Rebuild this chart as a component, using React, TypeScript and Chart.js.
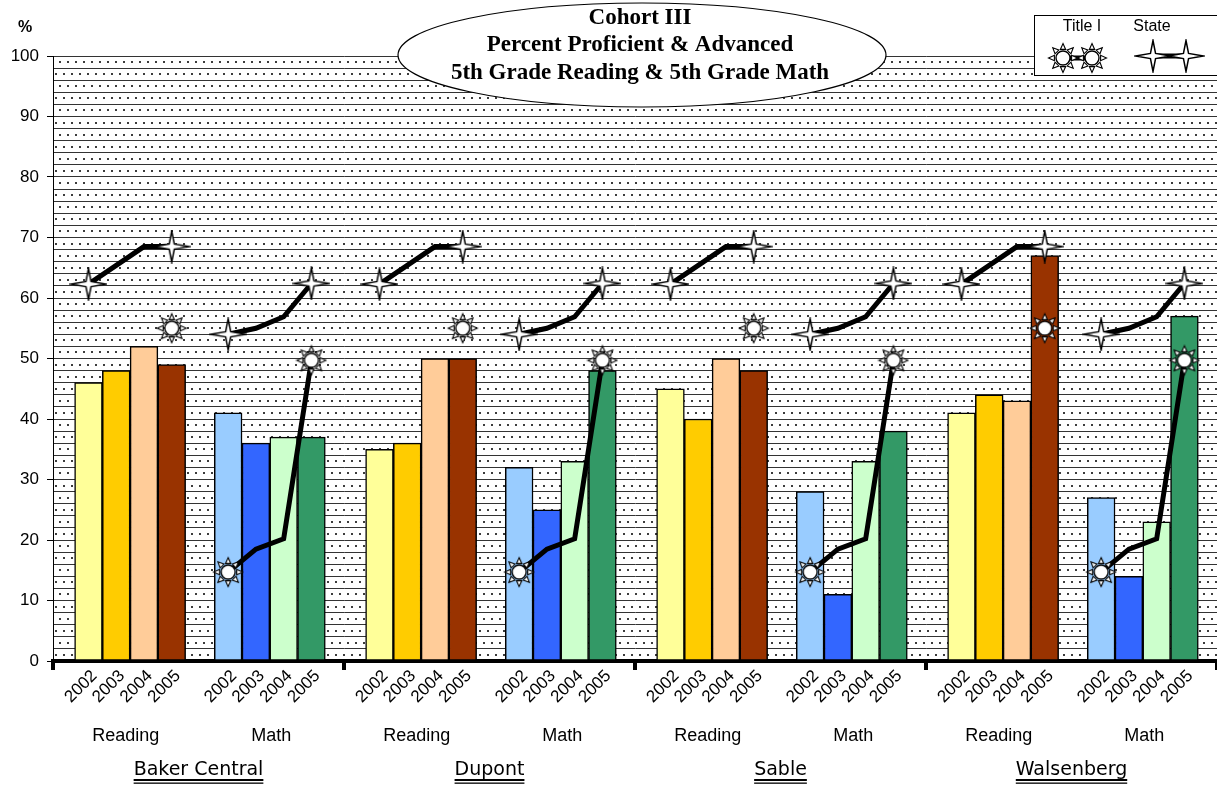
import { useEffect, useRef } from 'react';
import { Chart, registerables } from 'chart.js';

Chart.register(...registerables);

// ---------- data ----------
const schools = ['Baker Central', 'Dupont', 'Sable', 'Walsenberg'];
const subjects = ['Reading', 'Math'];
const years = ['2002', '2003', '2004', '2005'];

const bakerReading = [46, 48, 52, 49];
const bakerMath = [41, 36, 37, 37];
const dupontReading = [35, 36, 50, 50];
const dupontMath = [32, 25, 33, 48];
const sableReading = [45, 40, 50, 48];
const sableMath = [28, 11, 33, 38];
const walsenbergReading = [41, 44, 43, 67];
const walsenbergMath = [27, 14, 23, 57];

const titleIReading: (number | null)[] = [null, null, null, 55];
const titleIMath = [14.7, 18.5, 20.2, 49.7];
const stateReading = [62.3, 65.4, 68.5, 68.5];
const stateMath = [54, 55, 56.9, 62.4];

const readingColors = ['#FFFF99', '#FFCC00', '#FFCC99', '#993300'];
const mathColors = ['#99CCFF', '#3366FF', '#CCFFCC', '#339966'];

const titleLines = ['Cohort III', 'Percent Proficient & Advanced', '5th Grade Reading & 5th Grade Math'];
const yUnit = '%';
const lineLabels = ['Title I', 'State'];

// ---------- derived ----------
const groups = [
  bakerReading, bakerMath,
  dupontReading, dupontMath,
  sableReading, sableMath,
  walsenbergReading, walsenbergMath,
];
const groupSubjects = schools.flatMap(() => subjects);
const CAT_PCT = 0.763;
const barStep = CAT_PCT / years.length;
const SUBJECT_SHIFT: Record<string, number> = { Reading: 0.03, Math: -0.01 };
const xForBar = (g: number, k: number) =>
  g + SUBJECT_SHIFT[groupSubjects[g]] + (k - (years.length - 1) / 2) * barStep;

function linePoints(readingVals: (number | null)[], mathVals: (number | null)[]) {
  const pts: any[] = [];
  groupSubjects.forEach((s, g) => {
    const vals = s === 'Reading' ? readingVals : mathVals;
    vals.forEach((v, k) => pts.push({ x: xForBar(g, k), y: v, k }));
    pts.push({ x: g + 0.5, y: null, k: -1 });
  });
  return pts;
}

function makeSun(): HTMLCanvasElement {
  const s = 32;
  const c = document.createElement('canvas');
  c.width = s; c.height = s;
  const g = c.getContext('2d')!;
  const cx = s / 2, cy = s / 2;
  g.strokeStyle = '#000';
  g.lineWidth = 1.1;
  for (let i = 0; i < 8; i++) {
    const a = (i * Math.PI) / 4 - Math.PI / 2;
    g.beginPath();
    g.moveTo(cx + Math.cos(a) * 14.5, cy + Math.sin(a) * 14.5);
    g.lineTo(cx + Math.cos(a + 0.3) * 9, cy + Math.sin(a + 0.3) * 9);
    g.lineTo(cx + Math.cos(a - 0.3) * 9, cy + Math.sin(a - 0.3) * 9);
    g.closePath();
    g.fillStyle = '#fff';
    g.fill();
    g.stroke();
  }
  g.beginPath();
  g.arc(cx, cy, 7, 0, Math.PI * 2);
  g.fillStyle = '#fff';
  g.fill();
  g.lineWidth = 1.4;
  g.stroke();
  return c;
}

function makeStar(): HTMLCanvasElement {
  const w = 38, h = 34;
  const c = document.createElement('canvas');
  c.width = w; c.height = h;
  const g = c.getContext('2d')!;
  const cx = w / 2, cy = h / 2;
  const rx = 17.5, ry = 15.5, ri = 3.6;
  const d = ri * Math.SQRT1_2;
  g.beginPath();
  g.moveTo(cx + rx, cy);
  g.lineTo(cx + d, cy - d);
  g.lineTo(cx, cy - ry);
  g.lineTo(cx - d, cy - d);
  g.lineTo(cx - rx, cy);
  g.lineTo(cx - d, cy + d);
  g.lineTo(cx, cy + ry);
  g.lineTo(cx + d, cy + d);
  g.closePath();
  g.fillStyle = '#fff';
  g.fill();
  g.strokeStyle = '#000';
  g.lineWidth = 1.5;
  g.stroke();
  return c;
}

const zeroPad = (s: any) => { s.paddingLeft = 0; s.paddingRight = 0; };

export default function App() {
  const ref = useRef<HTMLCanvasElement>(null);

  useEffect(() => {
    const sun = makeSun();
    const star = makeStar();

    const decor = {
      id: 'decor',
      beforeDraw(chart: any) {
        const { ctx, chartArea: a, scales } = chart;
        ctx.save();
        ctx.fillStyle = '#fff';
        ctx.fillRect(0, 0, chart.width, chart.height);
        const y = scales.y;
        ctx.fillStyle = '#3c3c3c';
        let row = 0;
        for (let v = 0; v < 100; v += 2) {
          const py = Math.round(y.getPixelForValue(v + 1)) - 1;
          const off = row % 2 ? 4 : 0;
          for (let px = a.left + 2 + off; px < a.right; px += 8) ctx.fillRect(px, py, 2, 2);
          row++;
        }
        ctx.restore();
      },
      afterDraw(chart: any) {
        const { ctx, chartArea: a, scales } = chart;
        ctx.save();
        // school boundary ticks on baseline
        ctx.fillStyle = '#000';
        const n = schools.length;
        for (let i = 0; i <= n; i++) {
          const x = a.left + (i * (a.right - a.left)) / n;
          ctx.fillRect(x - 2, a.bottom, 4, 9);
        }
        // underline school names
        const xs = scales.xs;
        ctx.font = '19px "DejaVu Sans"';
        schools.forEach((s, i) => {
          const x = xs.getPixelForTick(i);
          const w = ctx.measureText(s).width;
          ctx.fillRect(x - w / 2, xs.bottom - 9, w, 2);
          ctx.fillRect(x - w / 2, xs.bottom - 5.5, w, 1.3);
        });
        // % unit
        ctx.font = 'bold 16px "Liberation Sans"';
        ctx.textAlign = 'center';
        ctx.textBaseline = 'middle';
        ctx.fillText(yUnit, 25, 28);
        // title ellipse
        ctx.beginPath();
        ctx.ellipse(642, 55, 244, 52, 0, 0, Math.PI * 2);
        ctx.fillStyle = '#fff';
        ctx.fill();
        ctx.lineWidth = 1.2;
        ctx.strokeStyle = '#000';
        ctx.stroke();
        ctx.fillStyle = '#000';
        ctx.font = 'bold 23px "Liberation Serif"';
        titleLines.forEach((t, i) => ctx.fillText(t, 640, 18 + i * 27.5));
        // legend
        ctx.fillStyle = '#fff';
        ctx.fillRect(1034, 15, 190, 60);
        ctx.lineWidth = 1;
        ctx.strokeRect(1034.5, 15.5, 190, 60);
        ctx.fillStyle = '#000';
        ctx.font = '16px "Liberation Sans"';
        ctx.fillText(lineLabels[0], 1082, 27);
        ctx.fillText(lineLabels[1], 1152, 27);
        ctx.lineWidth = 5;
        ctx.beginPath();
        ctx.moveTo(1063, 58); ctx.lineTo(1092, 58);
        ctx.moveTo(1153, 56); ctx.lineTo(1186, 56);
        ctx.stroke();
        [1063, 1092].forEach((x) => ctx.drawImage(sun, x - sun.width / 2, 58 - sun.height / 2));
        [1153, 1186].forEach((x) => ctx.drawImage(star, x - star.width / 2, 56 - star.height / 2));
        ctx.restore();
      },
    };

    const markerRadius = (c: any) => (c.raw && (c.raw.k === 0 || c.raw.k === years.length - 1) ? 10 : 0);

    const barDatasets = years.map((yr, k) => ({
      type: 'bar' as const,
      label: yr,
      data: groups.map((g, gi) => ({ x: xForBar(gi, k), y: g[k] })),
      backgroundColor: groupSubjects.map((s) => (s === 'Reading' ? readingColors[k] : mathColors[k])),
      borderColor: '#000',
      borderWidth: 1.5,
      borderSkipped: false as const,
      grouped: false,
      categoryPercentage: 1,
      barPercentage: 1,
      xAxisID: 'xl',
      order: 2,
    }));

    const lineDatasets = [
      {
        type: 'line' as const,
        label: lineLabels[0],
        data: linePoints(titleIReading, titleIMath),
        borderColor: '#000',
        borderWidth: 5,
        pointStyle: sun,
        pointRadius: markerRadius,
        pointHoverRadius: 0,
        spanGaps: false,
        tension: 0,
        xAxisID: 'xl',
        order: 0,
      },
      {
        type: 'line' as const,
        label: lineLabels[1],
        data: linePoints(stateReading, stateMath),
        borderColor: '#000',
        borderWidth: 5,
        pointStyle: star,
        pointRadius: markerRadius,
        pointHoverRadius: 0,
        spanGaps: false,
        tension: 0,
        xAxisID: 'xl',
        order: 1,
      },
    ];

    Chart.defaults.font.family = '"Liberation Sans", Arial, sans-serif';
    Chart.defaults.color = '#000';

    const chart = new Chart(ref.current!, {
      data: { labels: groupSubjects, datasets: [...barDatasets, ...lineDatasets] as any },
      options: {
        responsive: false,
        animation: false,
        events: [],
        layout: { autoPadding: false, padding: { top: 56, left: 0, right: 0, bottom: 0 } },
        plugins: { legend: { display: false }, tooltip: { enabled: false }, title: { display: false } },
        scales: {
          y: {
            min: 0,
            max: 100,
            position: 'left',
            grid: {
              color: '#333',
              lineWidth: 1,
              tickLength: 6,
              tickColor: (c: any) => (c.tick && c.tick.value % 10 === 0 ? '#000' : 'rgba(0,0,0,0)'),
            },
            border: { color: '#000', width: 1 },
            ticks: {
              stepSize: 2,
              maxTicksLimit: 60,
              autoSkip: false,
              padding: 8,
              font: { size: 17 },
              color: '#000',
              callback: (v: any) => (Number(v) % 10 === 0 ? String(v) : ''),
            },
            afterFit: (s: any) => { s.width = 53; },
          },
          xl: {
            type: 'linear',
            position: 'bottom',
            weight: 0,
            min: -0.5,
            max: groups.length - 0.5,
            offset: false,
            grid: { display: false, drawTicks: false },
            border: { display: true, color: '#000', width: 4 },
            ticks: {
              autoSkip: false,
              minRotation: 45,
              maxRotation: 45,
              padding: 5,
              labelOffset: 6,
              font: { size: 17 },
              color: '#000',
              callback: (_v: any, i: number) => years[i % years.length],
            },
            afterBuildTicks: (s: any) => {
              s.ticks = groups.flatMap((_g, g) => years.map((_y, k) => ({ value: xForBar(g, k) })));
            },
            afterFit: (s: any) => { s.height = 44; zeroPad(s); },
          },
          x: {
            type: 'category',
            position: 'bottom',
            weight: 1,
            offset: true,
            grid: { display: false, drawTicks: false },
            border: { display: false },
            ticks: { autoSkip: false, maxRotation: 0, padding: 20, font: { size: 18 }, color: '#000' },
            afterFit: (s: any) => { s.height = 46; zeroPad(s); },
          },
          xs: {
            type: 'category',
            labels: schools,
            position: 'bottom',
            weight: 2,
            offset: true,
            grid: { display: false, drawTicks: false },
            border: { display: false },
            ticks: { autoSkip: false, maxRotation: 0, padding: 8, font: { family: '"DejaVu Sans"', size: 19 }, color: '#000' },
            afterFit: (s: any) => { s.height = 37; zeroPad(s); },
          },
        } as any,
      },
      plugins: [decor],
    } as any);

    return () => chart.destroy();
  }, []);

  return (
    <div style={{ position: 'fixed', left: 0, top: 0, width: 1217, height: 788, background: '#fff' }}>
      <canvas ref={ref} width={1217} height={788} style={{ display: 'block' }} />
    </div>
  );
}
